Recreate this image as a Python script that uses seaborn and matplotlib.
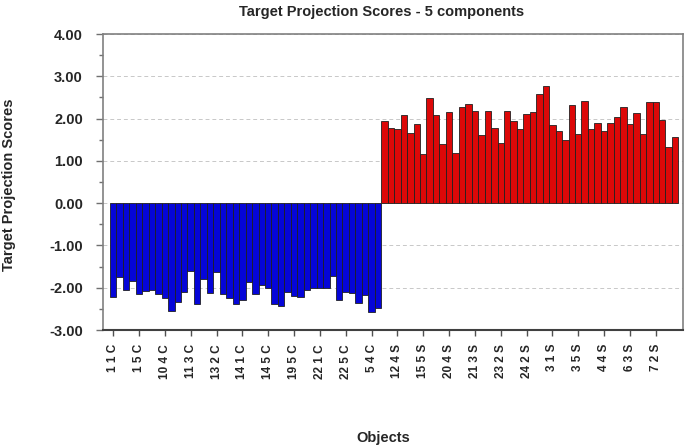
import numpy as np
import pandas as pd
import matplotlib
matplotlib.use("Agg")
import matplotlib.pyplot as plt
from matplotlib.ticker import MultipleLocator
import seaborn as sns

# ---- data ----
c_scores = [-2.23, -1.74, -2.06, -1.83, -2.16, -2.07, -2.05, -2.14, -2.24, -2.55,
            -2.33, -2.11, -1.60, -2.39, -1.80, -2.13, -1.62, -2.14, -2.24, -2.39,
            -2.28, -1.86, -2.15, -1.94, -2.01, -2.39, -2.43, -2.11, -2.20, -2.23,
            -2.05, -2.01, -2.00, -2.01, -1.73, -2.28, -2.11, -2.13, -2.36, -2.17,
            -2.57, -2.49]
s_scores = [1.95, 1.77, 1.75, 2.09, 1.67, 1.87, 1.16, 2.49, 2.09, 1.41,
            2.15, 1.19, 2.28, 2.35, 2.17, 1.61, 2.19, 1.77, 1.43, 2.17,
            1.95, 1.75, 2.11, 2.16, 2.59, 2.76, 1.85, 1.71, 1.49, 2.31,
            1.63, 2.41, 1.76, 1.89, 1.71, 1.89, 2.03, 2.27, 1.87, 2.12,
            1.64, 2.39, 2.39, 1.97, 1.33, 1.57]
tick_labels = ["1 1 C", "1 5 C", "10 4 C", "11 3 C", "13 2 C", "14 1 C",
               "14 5 C", "19 5 C", "22 1 C", "22 5 C", "5 4 C",
               "12 4 S", "15 5 S", "20 4 S", "21 3 S", "23 2 S", "24 2 S",
               "3 1 S", "3 5 S", "4 4 S", "6 3 S", "7 2 S"]
tick_every = 4

scores = c_scores + s_scores
classes = ["C"] * len(c_scores) + ["S"] * len(s_scores)
df = pd.DataFrame({"pos": np.arange(len(scores)), "score": scores, "cls": classes})

sns.set_style("white")
plt.rcParams["font.family"] = ["Liberation Sans", "DejaVu Sans"]
plt.rcParams["font.weight"] = "bold"

fig = plt.figure(figsize=(6.85, 4.48), dpi=100)
ax = fig.add_axes([103 / 685, 1 - 330 / 448, 580 / 685, 296 / 448])

ax.yaxis.grid(True, which="major", linestyle=(0, (4, 3)), color="#c8c8c8", linewidth=0.7)
ax.set_axisbelow(True)

sns.barplot(data=df, x="pos", y="score", hue="cls",
            palette={"C": "#0505d8", "S": "#dc0808"}, saturation=1,
            dodge=False, width=1.0, edgecolor="#202020", linewidth=0.6,
            legend=False, ax=ax, zorder=2)

ax.set_xlim(-1.58, len(scores) - 0.5 + 0.72)
ax.set_ylim(-3.0, 4.0)
ax.yaxis.set_major_locator(MultipleLocator(1.0))
ax.yaxis.set_minor_locator(MultipleLocator(0.5))
ax.set_yticks(np.arange(-3, 5, 1.0))
ax.set_yticklabels([f"{v:.2f}" for v in np.arange(-3, 5, 1.0)], fontsize=10.5, fontweight="bold")

ticks = list(range(0, len(scores), tick_every))[:len(tick_labels)]
ax.set_xticks(ticks)
ax.set_xticklabels(tick_labels, rotation=90, fontsize=8.5, fontweight="bold")

ax.tick_params(axis="y", which="major", direction="out", length=5, width=1, color="#707070", left=True, pad=9.5)
ax.tick_params(axis="y", which="minor", direction="out", length=3, width=1, color="#707070", left=True)
ax.tick_params(axis="x", which="major", direction="out", length=4, width=1, color="#505050", bottom=True, pad=6)

for side in ["left", "right", "top"]:
    ax.spines[side].set_color("#808080")
    ax.spines[side].set_linewidth(1.2)
ax.spines["bottom"].set_color("#404040")
ax.spines["bottom"].set_linewidth(1.5)

ax.set_xlabel("Objects", fontsize=10.5, fontweight="bold")
ax.xaxis.set_label_coords(0.483, -0.340)
ax.set_ylabel("Target Projection Scores", fontsize=10.5, fontweight="bold")
ax.yaxis.set_label_coords(-0.150, 0.49)
ax.set_title("Target Projection Scores - 5 components", fontsize=10.5, fontweight="bold", pad=13, x=0.48)

fig.savefig("out.png", dpi=100)
